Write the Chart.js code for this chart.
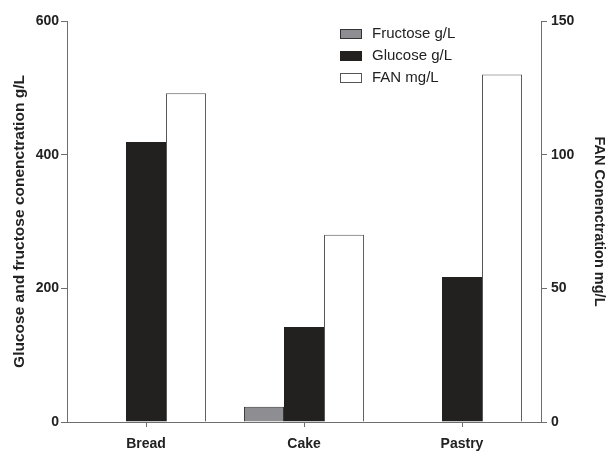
<!DOCTYPE html>
<html>
<head>
<meta charset="utf-8">
<script src="https://cdn.jsdelivr.net/npm/chart.js@4"></script>
<style>
  html, body { margin: 0; padding: 0; background: #fff; }
  #wrap { width: 608px; height: 453px; }
</style>
</head>
<body>
<div id="wrap"><canvas id="sugar-fan-chart"></canvas></div>
<script>
const categories = ['Bread', 'Cake', 'Pastry']
const fructose = [0, 23, 0]
const glucose = [419, 142, 217]
const fan = [123, 70, 130]
const leftTicks = [0, 200, 400, 600]
const rightTicks = [0, 50, 100, 150]

const fontFamily = '"Liberation Sans", Arial, sans-serif'
const axisGray = '#6e6e6e'

// legend drawn as a stacked list inside the plot, like the original figure
const boxLegend = {
  id: 'boxLegend',
  afterDraw(chart) {
    const ctx = chart.ctx
    ctx.save()
    chart.data.datasets.forEach(function (ds, i) {
      const y = 29 + i * 22
      ctx.fillStyle = ds.backgroundColor
      ctx.fillRect(340, y, 22, 10)
      ctx.strokeStyle = ds.borderColor
      ctx.lineWidth = 1
      ctx.strokeRect(340.5, y + 0.5, 21, 9)
      ctx.fillStyle = '#222'
      ctx.font = '15px ' + fontFamily
      ctx.textBaseline = 'middle'
      ctx.fillText(ds.label, 372, y + 5)
    })
    ctx.restore()
  }
}

const chartEl = document.getElementById('sugar-fan-chart')
new Chart(chartEl, {
  type: 'bar',
  data: {
    labels: categories,
    datasets: [
      {
        label: 'Fructose g/L',
        data: fructose,
        yAxisID: 'y',
        backgroundColor: '#8e8e92',
        borderColor: '#333333',
        borderWidth: 1
      },
      {
        label: 'Glucose g/L',
        data: glucose,
        yAxisID: 'y',
        backgroundColor: '#22211f',
        borderColor: '#22211f',
        borderWidth: 1
      },
      {
        label: 'FAN mg/L',
        data: fan,
        yAxisID: 'yR',
        backgroundColor: '#ffffff',
        borderColor: '#555555',
        borderWidth: 1
      }
    ]
  },
  options: {
    responsive: true,
    maintainAspectRatio: false,
    animation: false,
    layout: {
      padding: { top: 21, left: 0, right: 0, bottom: 0 }
    },
    datasets: {
      bar: {
        categoryPercentage: 0.76,
        barPercentage: 1,
        borderSkipped: 'bottom'
      }
    },
    scales: {
      x: {
        grid: {
          drawOnChartArea: false,
          offset: false,
          tickLength: 5,
          color: axisGray
        },
        border: { color: axisGray, width: 1 },
        ticks: {
          color: '#222',
          padding: 9,
          font: { family: fontFamily, size: 14, weight: 'bold' }
        },
        afterFit(scale) { scale.height = 31 }
      },
      y: {
        position: 'left',
        min: 0,
        max: 600,
        afterBuildTicks(scale) { scale.ticks = leftTicks.map(v => ({ value: v })) },
        grid: {
          drawOnChartArea: false,
          tickLength: 6,
          color: axisGray
        },
        border: { color: axisGray, width: 1 },
        ticks: {
          color: '#222',
          padding: 2,
          font: { family: fontFamily, size: 14, weight: 'bold' }
        },
        title: {
          display: true,
          text: 'Glucose and fructose conenctration g/L',
          color: '#222',
          padding: { top: 10, bottom: 0 },
          font: { family: fontFamily, size: 15.5, weight: 'bold' }
        },
        afterFit(scale) { scale.width = 67 }
      },
      yR: {
        position: 'right',
        min: 0,
        max: 150,
        afterBuildTicks(scale) { scale.ticks = rightTicks.map(v => ({ value: v })) },
        grid: {
          drawOnChartArea: false,
          tickLength: 6,
          color: axisGray
        },
        border: { color: axisGray, width: 1 },
        ticks: {
          color: '#222',
          padding: 4,
          font: { family: fontFamily, size: 14, weight: 'bold' }
        },
        title: {
          display: true,
          text: 'FAN Conenctration mg/L',
          color: '#222',
          padding: { top: 0, bottom: 0 },
          font: { family: fontFamily, size: 14.5, weight: 'bold' }
        },
        afterFit(scale) { scale.width = 67 }
      }
    },
    plugins: {
      legend: { display: false },
      tooltip: { enabled: false }
    }
  },
  plugins: [boxLegend]
})
</script>
</body>
</html>
